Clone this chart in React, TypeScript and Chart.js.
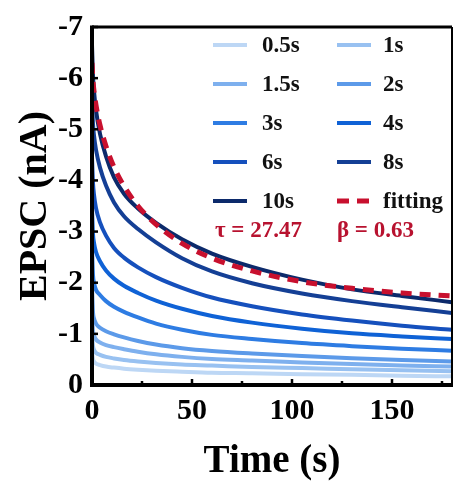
import React, { useEffect, useRef } from "react";
import { Chart, registerables } from "chart.js";

Chart.register(...registerables);

// Sample times (s)
const TIMES = [0, 0.5, 1, 2, 4, 7, 11, 16, 23, 32, 45, 60, 80, 105, 130, 155, 180];

// EPSC (nA)
const EPSC_05 = [-0.65, -0.51, -0.46, -0.42, -0.39, -0.36, -0.34, -0.32, -0.3, -0.28, -0.26, -0.24, -0.23, -0.21, -0.2, -0.18, -0.17];
const EPSC_1 = [-0.98, -0.76, -0.69, -0.63, -0.59, -0.55, -0.52, -0.49, -0.46, -0.43, -0.4, -0.38, -0.35, -0.33, -0.31, -0.29, -0.27];
const EPSC_15 = [-1.43, -1.06, -0.97, -0.89, -0.83, -0.78, -0.74, -0.7, -0.65, -0.6, -0.55, -0.51, -0.48, -0.44, -0.41, -0.38, -0.36];
const EPSC_2 = [-1.93, -1.42, -1.3, -1.2, -1.12, -1.05, -0.99, -0.93, -0.86, -0.79, -0.72, -0.665, -0.615, -0.565, -0.525, -0.49, -0.46];
const EPSC_3 = [-2.68, -2.15, -2.0, -1.86, -1.76, -1.64, -1.53, -1.43, -1.32, -1.2, -1.08, -0.98, -0.9, -0.82, -0.76, -0.71, -0.67];
const EPSC_4 = [-3.45, -2.95, -2.78, -2.6, -2.42, -2.24, -2.08, -1.94, -1.8, -1.65, -1.49, -1.35, -1.22, -1.1, -1.01, -0.95, -0.9];
const EPSC_6 = [-4.45, -3.95, -3.72, -3.46, -3.18, -2.92, -2.68, -2.49, -2.3, -2.11, -1.9, -1.71, -1.54, -1.38, -1.26, -1.16, -1.08];
const EPSC_8 = [-5.6, -5.1, -4.88, -4.6, -4.25, -3.9, -3.57, -3.3, -3.05, -2.79, -2.48, -2.22, -1.99, -1.79, -1.64, -1.52, -1.41];
const EPSC_10 = [-6.65, -6.04, -5.75, -5.37, -4.91, -4.47, -4.06, -3.74, -3.45, -3.17, -2.85, -2.57, -2.31, -2.06, -1.87, -1.74, -1.62];
const EPSC_FIT = [-6.3, -5.94, -5.75, -5.47, -5.08, -4.67, -4.26, -3.89, -3.5, -3.14, -2.77, -2.48, -2.23, -2.02, -1.89, -1.8, -1.74];

const SERIES_LABELS = ["0.5s", "1s", "1.5s", "2s", "3s", "4s", "6s", "8s", "10s", "fitting"];
const SERIES_VALUES = [EPSC_05, EPSC_1, EPSC_15, EPSC_2, EPSC_3, EPSC_4, EPSC_6, EPSC_8, EPSC_10, EPSC_FIT];
const SERIES_COLORS = ["#bdd7f5", "#98c1f1", "#7eb0ee", "#5c9ae9", "#2e7ce3", "#0f62d6", "#1550bd", "#143f95", "#0c2a6b", "#c8102e"];

const X_TICKS = [0, 50, 100, 150];
const X_MINOR = [25, 75, 125, 175];
const Y_TICKS = [-7, -6, -5, -4, -3, -2, -1, 0];

const TAU_TEXT = "τ = 27.47";
const BETA_TEXT = "β = 0.63";
const X_TITLE = "Time (s)";
const Y_TITLE = "EPSC (nA)";

const SERIF = "'Liberation Serif', 'Times New Roman', serif";
const TEXT_RED = "#b8122f";

const W = 453;
const H = 491;

const framePlugin = {
  id: "frameAndLegend",
  afterDatasetsDraw(chart: any) {
    const { ctx, chartArea: a, scales } = chart;
    const xs = scales.x;
    const ys = scales.y;
    ctx.save();
    ctx.strokeStyle = "#000";
    ctx.lineCap = "butt";
    // inward ticks
    ctx.lineWidth = 2.5;
    for (const v of X_TICKS) {
      const px = xs.getPixelForValue(v);
      ctx.beginPath();
      ctx.moveTo(px, a.bottom);
      ctx.lineTo(px, a.bottom - 6);
      ctx.stroke();
    }
    for (const v of X_MINOR) {
      const px = xs.getPixelForValue(v);
      ctx.beginPath();
      ctx.moveTo(px, a.bottom);
      ctx.lineTo(px, a.bottom - 4);
      ctx.stroke();
    }
    for (const v of Y_TICKS) {
      const py = ys.getPixelForValue(v);
      ctx.beginPath();
      ctx.moveTo(a.left, py);
      ctx.lineTo(a.left + 6, py);
      ctx.stroke();
    }
    // frame
    ctx.lineWidth = 3;
    ctx.beginPath();
    ctx.moveTo(a.left, a.top);
    ctx.lineTo(a.right, a.top);
    ctx.stroke();
    ctx.lineWidth = 2;
    ctx.beginPath();
    ctx.moveTo(a.right, a.top);
    ctx.lineTo(a.right, a.bottom);
    ctx.stroke();
    ctx.lineWidth = 4;
    ctx.beginPath();
    ctx.moveTo(a.left, a.top - 1.5);
    ctx.lineTo(a.left, a.bottom);
    ctx.lineTo(a.right + 1, a.bottom);
    ctx.stroke();

    // legend
    const colSwatch = [213, 337];
    const colText = [262, 383];
    const rowY = [45, 84, 123, 162, 201];
    ctx.font = `bold 23px ${SERIF}`;
    ctx.textBaseline = "middle";
    ctx.textAlign = "left";
    SERIES_LABELS.forEach((lab, i) => {
      const r = Math.floor(i / 2);
      const c = i % 2;
      const y = rowY[r];
      const isFit = i === SERIES_LABELS.length - 1;
      ctx.strokeStyle = SERIES_COLORS[i];
      ctx.lineWidth = isFit ? 5 : 4;
      ctx.setLineDash(isFit ? [12, 8] : []);
      ctx.beginPath();
      ctx.moveTo(colSwatch[c], y);
      ctx.lineTo(colSwatch[c] + 34, y);
      ctx.stroke();
      ctx.setLineDash([]);
      ctx.fillStyle = "#111";
      ctx.fillText(lab, colText[c], y + 1);
    });
    ctx.fillStyle = TEXT_RED;
    ctx.fillText(TAU_TEXT, 215, 231);
    ctx.fillText(BETA_TEXT, 337, 231);
    ctx.restore();
  },
};

export default function App() {
  const ref = useRef<HTMLCanvasElement | null>(null);

  useEffect(() => {
    document.body.style.margin = "0";
    const canvas = ref.current;
    if (!canvas) return;
    const datasets = SERIES_LABELS.map((lab, i) => {
      const isFit = i === SERIES_LABELS.length - 1;
      return {
        label: lab,
        data: TIMES.map((t, k) => ({ x: t, y: SERIES_VALUES[i][k] })),
        borderColor: SERIES_COLORS[i],
        backgroundColor: SERIES_COLORS[i],
        borderWidth: isFit ? 5 : 4,
        borderDash: isFit ? [11, 8] : [],
        pointRadius: 0,
        fill: false,
        cubicInterpolationMode: "monotone" as const,
        order: isFit ? 0 : SERIES_LABELS.length - i,
      };
    });

    const chart = new Chart(canvas, {
      type: "line",
      data: { datasets },
      options: {
        responsive: false,
        animation: false,
        devicePixelRatio: 1,
        layout: { padding: { top: 21, right: 1, left: 0, bottom: 0 } },
        plugins: { legend: { display: false }, tooltip: { enabled: false } },
        scales: {
          x: {
            type: "linear",
            min: 0,
            max: 180,
            grid: { display: false, drawTicks: false },
            border: { display: false },
            afterBuildTicks: (s: any) => {
              s.ticks = X_TICKS.map((v) => ({ value: v }));
            },
            afterFit: (s: any) => {
              s.height = H - 385;
            },
            ticks: {
              padding: 8,
              color: "#000",
              maxRotation: 0,
              font: { family: SERIF, size: 30, weight: "bold" },
            },
            title: {
              display: true,
              text: X_TITLE,
              color: "#000",
              font: { family: SERIF, size: 39, weight: "bold" },
              padding: { top: 0, bottom: 6 },
            },
          },
          y: {
            type: "linear",
            min: -7,
            max: 0,
            reverse: true,
            grid: { display: false, drawTicks: false },
            border: { display: false },
            afterBuildTicks: (s: any) => {
              s.ticks = Y_TICKS.map((v) => ({ value: v }));
            },
            afterFit: (s: any) => {
              s.width = 92;
            },
            ticks: {
              padding: 9,
              color: "#000",
              font: { family: SERIF, size: 30, weight: "bold" },
              callback: (v: any) => String(v),
            },
            title: {
              display: true,
              text: Y_TITLE,
              color: "#000",
              font: { family: SERIF, size: 40, weight: "bold" },
              padding: { top: 12, bottom: 0 },
            },
          },
        },
      },
      plugins: [framePlugin],
    });
    return () => chart.destroy();
  }, []);

  return (
    <div style={{ width: W, height: H, background: "#fff" }}>
      <canvas ref={ref} width={W} height={H} style={{ width: W, height: H, display: "block" }} />
    </div>
  );
}
